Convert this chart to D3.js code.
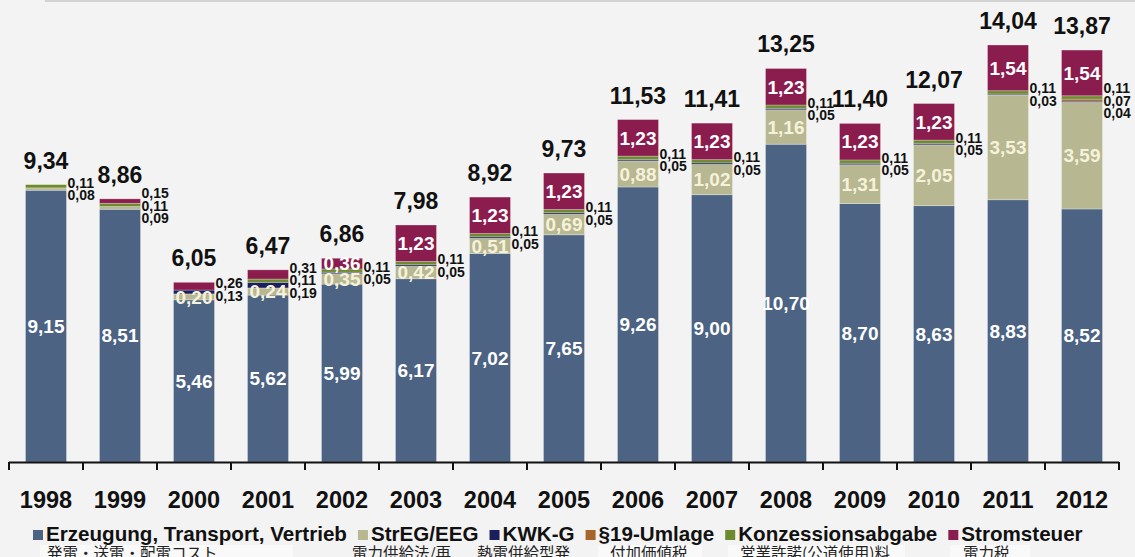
<!DOCTYPE html>
<html><head><meta charset="utf-8">
<script src="https://cdn.jsdelivr.net/npm/d3@7"></script>
<style>
html,body{margin:0;padding:0;background:#f3f3f3;}
svg{display:block;}
text{font-family:"Liberation Sans",Arial,Helvetica,sans-serif;font-weight:bold;}
.ja{font-family:"Noto Sans CJK JP",sans-serif;font-weight:normal;}
</style>
</head><body>
<svg id="c" width="1135" height="557"></svg>
<script>
const years = ["1998","1999","2000","2001","2002","2003","2004","2005","2006","2007","2008","2009","2010","2011","2012"];
const erzeugung = [9.15, 8.51, 5.46, 5.62, 5.99, 6.17, 7.02, 7.65, 9.26, 9.00, 10.70, 8.70, 8.63, 8.83, 8.52];
const streegEeg = [0.08, 0.09, 0.20, 0.24, 0.35, 0.42, 0.51, 0.69, 0.88, 1.02, 1.16, 1.31, 2.05, 3.53, 3.59];
const kwkG      = [0, 0, 0.13, 0.19, 0.05, 0.05, 0.05, 0.05, 0.05, 0.05, 0.05, 0.05, 0.05, 0.03, 0.04];
const umlage19  = [0, 0, 0, 0, 0, 0, 0, 0, 0, 0, 0, 0, 0, 0, 0.07];
const konzession= [0.11, 0.11, 0, 0.11, 0.11, 0.11, 0.11, 0.11, 0.11, 0.11, 0.11, 0.11, 0.11, 0.11, 0.11];
const stromsteuer=[0, 0.15, 0.26, 0.31, 0.36, 1.23, 1.23, 1.23, 1.23, 1.23, 1.23, 1.23, 1.23, 1.54, 1.54];
const totals    = [9.34, 8.86, 6.05, 6.47, 6.86, 7.98, 8.92, 9.73, 11.53, 11.41, 13.25, 11.40, 12.07, 14.04, 13.87];

const seriesKeys  = ["erz","eeg","kwk","u19","konz","strom"];
const seriesNames = ["Erzeugung, Transport, Vertrieb","StrEG/EEG","KWK-G","§19-Umlage","Konzessionsabgabe","Stromsteuer"];
const seriesValues= [erzeugung, streegEeg, kwkG, umlage19, konzession, stromsteuer];
const seriesColors= ["#4c6384","#b7b792","#1c1f5e","#a5652b","#6e8a2f","#8b1c4e"];
const jaLabels    = ["発電・送電・配電コスト","電力供給法/再","熱電併給型発","付加価値税","営業許諾(公道使用)料","電力税"];
const jaX         = [47, 352, 477, 610, 740, 963];
const jaBoxes     = [[40,293],[598,702],[728,905],[950,1030]];

const rows = years.map((yr,i)=>{
  const r = {year: yr};
  seriesKeys.forEach((k,j)=> r[k] = seriesValues[j][i]);
  return r;
});
const stacked = d3.stack().keys(seriesKeys)(rows);
const color = d3.scaleOrdinal().domain(seriesKeys).range(seriesColors);
const fmt = d3.formatLocale({decimal:",",thousands:".",grouping:[3],currency:["","€"]}).format(".2f");

const svg = d3.select("#c");
svg.append("rect").attr("width",1135).attr("height",557).attr("fill","#f3f3f3");
svg.append("line").attr("x1",45).attr("x2",1135).attr("y1",1).attr("y2",1)
  .attr("stroke","#d2d2d2").attr("stroke-width",2);

const x = d3.scaleBand().domain(years).range([9,1119]).paddingInner(0.446).paddingOuter(0.223);
const y = d3.scaleLinear().domain([0,15]).range([462,16.5]);

// bars
const g = svg.append("g");
stacked.forEach(layer=>{
  g.append("g").attr("fill", color(layer.key))
    .selectAll("rect").data(layer.filter(d=>d[1]-d[0]>0)).join("rect")
    .attr("x", d=>x(d.data.year)).attr("width", x.bandwidth())
    .attr("y", d=>y(d[1])).attr("height", d=>y(d[0])-y(d[1]))
    .attr("stroke","rgba(255,255,255,0.35)").attr("stroke-width",0.8);
});

// inner labels
function isInner(key, v){
  return key==="erz" || (key==="eeg" && v>=0.2) || (key==="strom" && v>=0.36);
}
stacked.forEach(layer=>{
  layer.forEach(d=>{
    const v = d.data[layer.key];
    if (v>0 && isInner(layer.key, v)) {
      svg.append("text")
        .attr("x", x(d.data.year)+x.bandwidth()/2)
        .attr("y", (y(d[0])+y(d[1]))/2 + 6.8)
        .attr("text-anchor","middle")
        .attr("font-size",19)
        .attr("fill", layer.key==="eeg" ? "#f6f2da" : "#ffffff")
        .text(fmt(v));
    }
  });
});

// outside labels
rows.forEach((r,i)=>{
  const outs = [];
  for (let j=stacked.length-1;j>=0;j--){
    const layer = stacked[j];
    const v = r[layer.key];
    if (v>0 && !isInner(layer.key, v)) outs.push({v, y0:y(layer[i][0]), y1:y(layer[i][1])});
  }
  if (!outs.length) return;
  const top = d3.min(outs, o=>o.y1), bot = d3.max(outs, o=>o.y0);
  const c = (top+bot)/2 + 1.5, s = 12.5, n = outs.length;
  outs.forEach((o,j)=>{
    svg.append("text")
      .attr("x", x(r.year)+x.bandwidth()+1)
      .attr("y", c + (j-(n-1)/2)*s + 5)
      .attr("font-size",14).attr("fill","#111")
      .text(fmt(o.v));
  });
});

// totals
svg.append("g").selectAll("text").data(rows).join("text")
  .attr("x", d=>x(d.year)+x.bandwidth()/2)
  .attr("y", (d,i)=>y(totals[i]) - 16)
  .attr("text-anchor","middle").attr("font-size",23).attr("fill","#111")
  .text((d,i)=>fmt(totals[i]));

// axis
const step = x.step(), half = step*x.paddingInner()/2;
const edges = years.map(yr=>x(yr)-half).concat([x(years[years.length-1])+x.bandwidth()+half]);
svg.append("line").attr("x1",edges[0]).attr("x2",edges[edges.length-1])
  .attr("y1",462.5).attr("y2",462.5).attr("stroke","#111").attr("stroke-width",2);
svg.append("g").selectAll("line").data(edges).join("line")
  .attr("x1",d=>d).attr("x2",d=>d).attr("y1",462).attr("y2",470)
  .attr("stroke","#111").attr("stroke-width",2);
svg.append("g").selectAll("text").data(years).join("text")
  .attr("x", d=>x(d)+x.bandwidth()/2).attr("y",508)
  .attr("text-anchor","middle").attr("font-size",23.5).attr("fill","#111")
  .text(d=>d);

// Japanese row
svg.append("g").selectAll("rect").data(jaBoxes).join("rect")
  .attr("x",d=>d[0]).attr("width",d=>d[1]-d[0]).attr("y",545).attr("height",14)
  .attr("fill","#f9f9f9");
svg.append("g").selectAll("text").data(jaLabels).join("text")
  .attr("class","ja").attr("x",(d,i)=>jaX[i]).attr("y",559)
  .attr("font-size",15.5).attr("fill","#222").text(d=>d);

// legend
const leg = svg.append("g");
let lx = 33;
seriesKeys.forEach((k,i)=>{
  leg.append("rect").attr("x",lx).attr("y",530).attr("width",10).attr("height",10).attr("fill",color(k));
  const t = leg.append("text").attr("x",lx+13).attr("y",541).attr("font-size",20.6).attr("fill","#111").text(seriesNames[i]);
  lx += 13 + t.node().getComputedTextLength() + 11;
});
</script>
</body></html>
